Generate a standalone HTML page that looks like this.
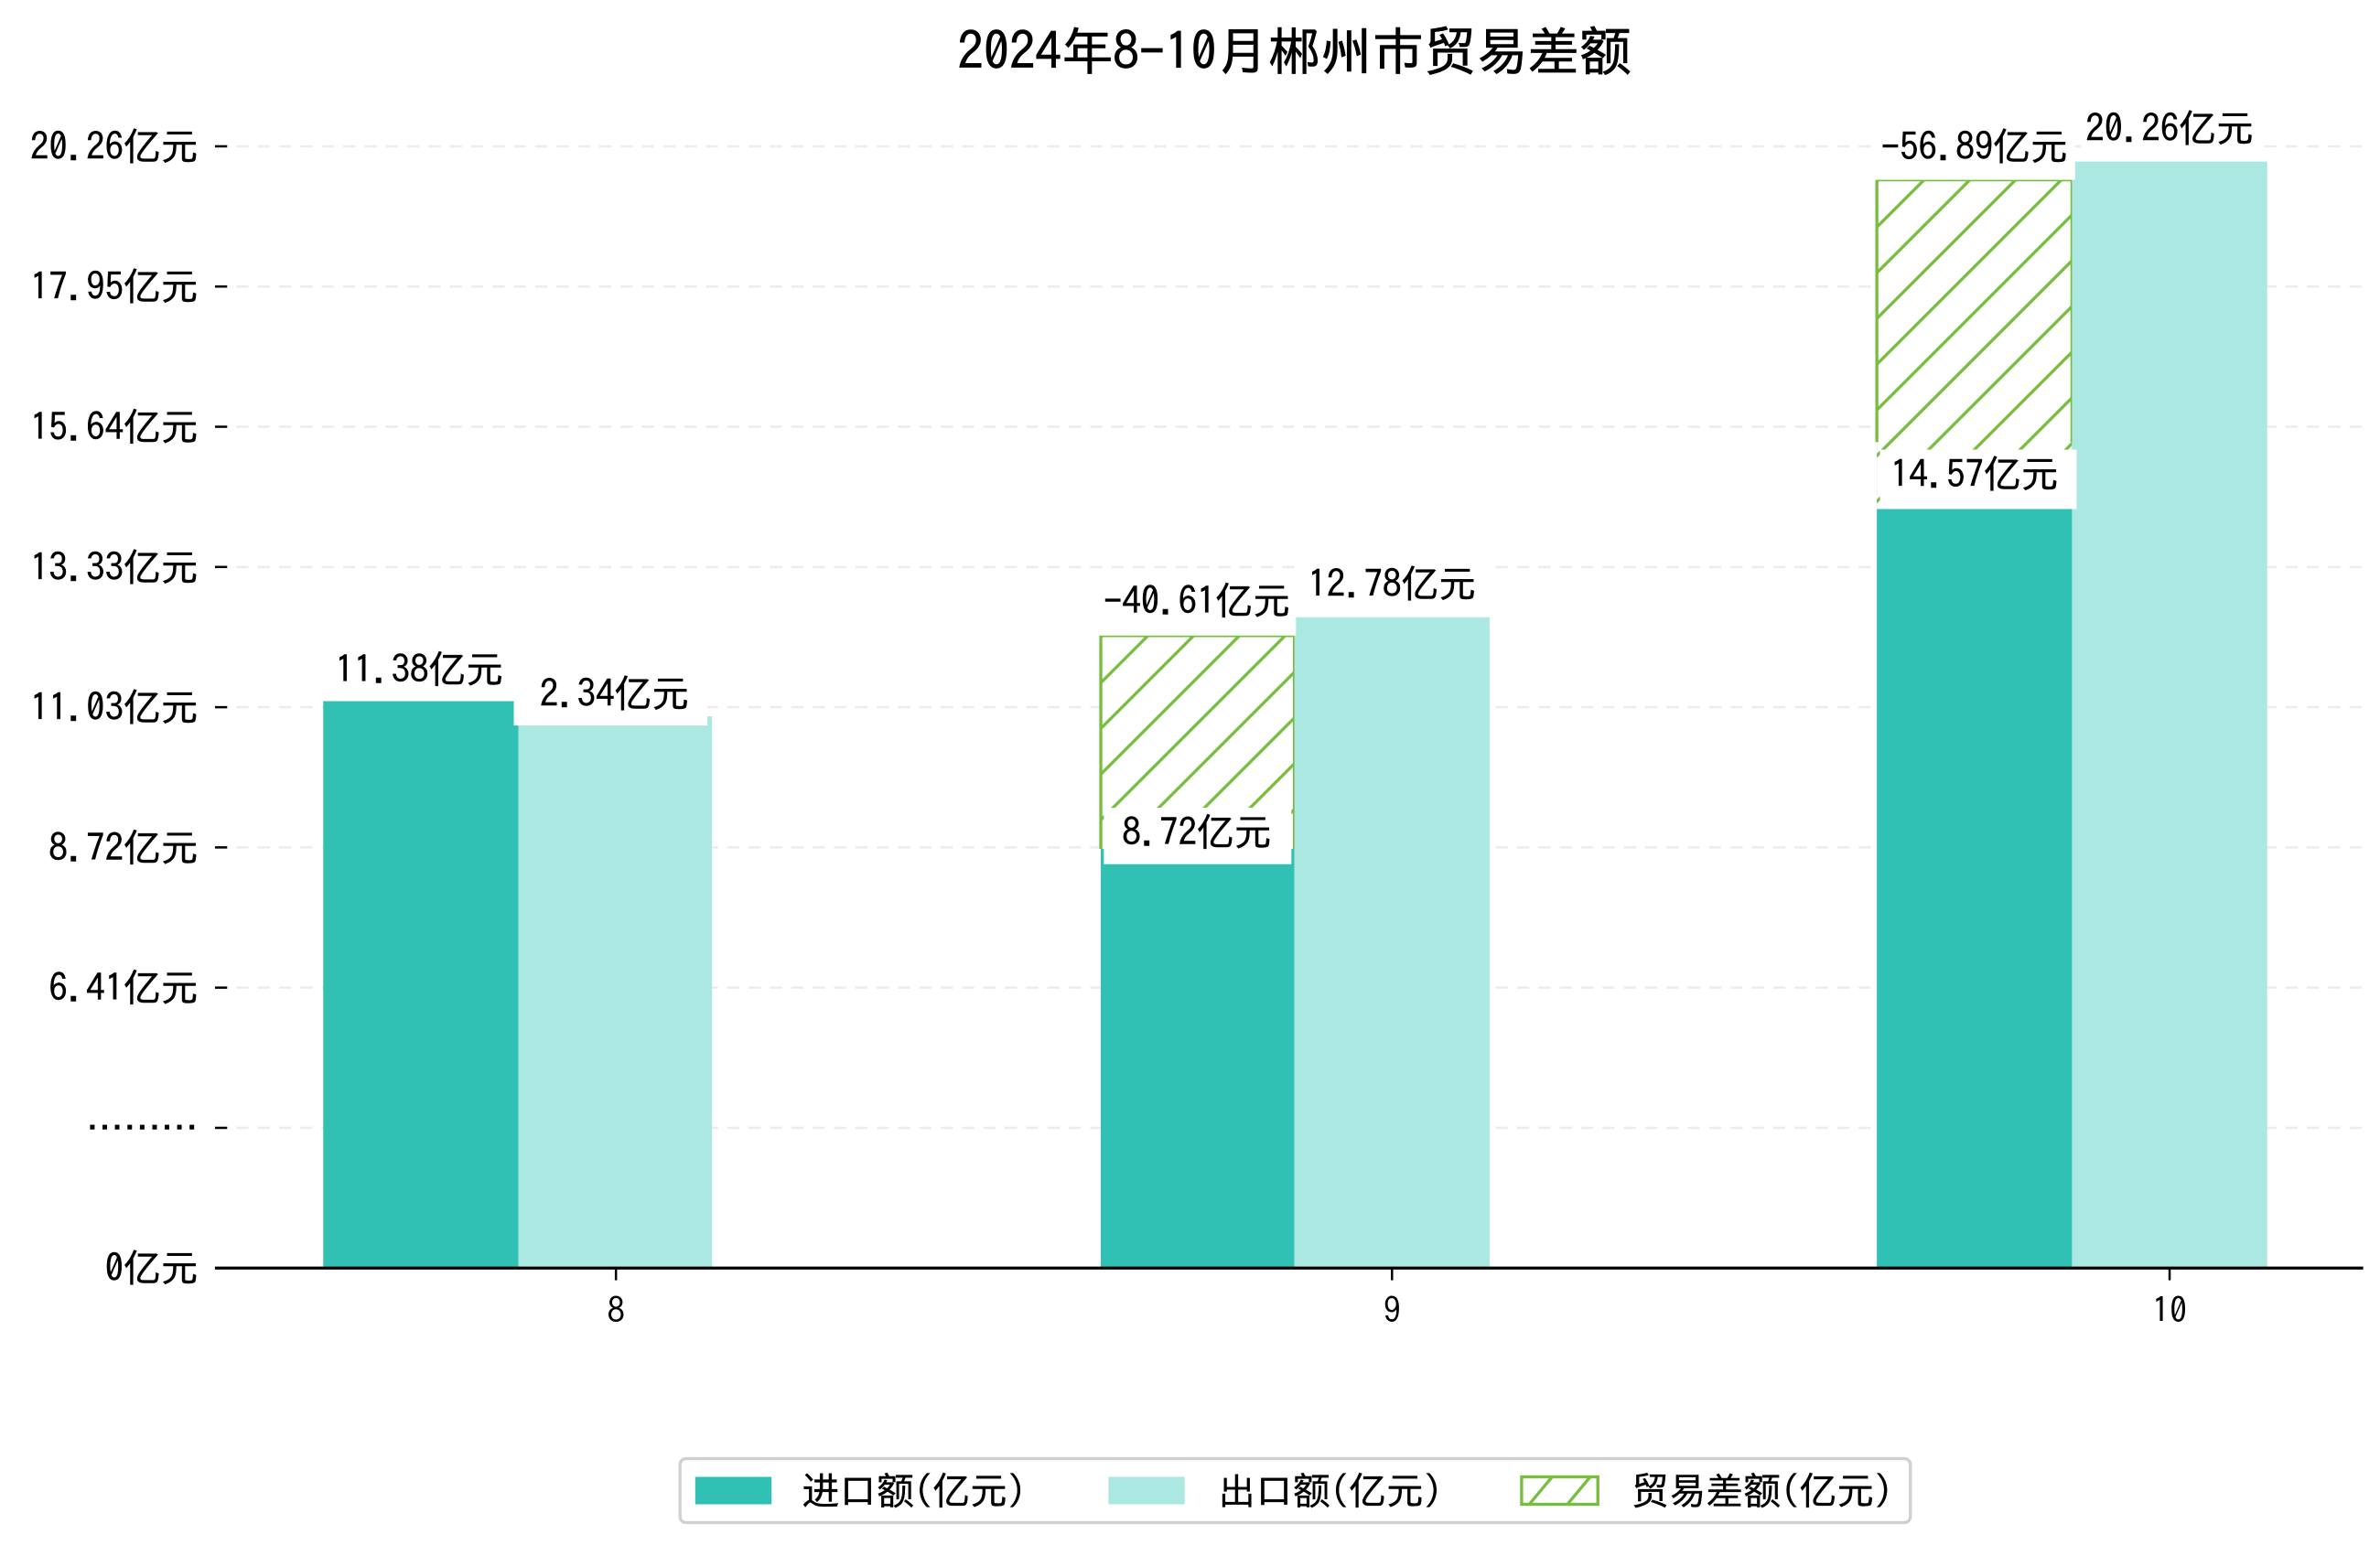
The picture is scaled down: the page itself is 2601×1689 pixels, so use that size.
<!DOCTYPE html>
<html><head><meta charset="utf-8"><style>html,body{margin:0;padding:0;background:#fff;}svg{display:block}</style></head>
<body>
<svg width="2601" height="1689" viewBox="0 0 1561 1013.7" preserveAspectRatio="none" xmlns="http://www.w3.org/2000/svg" font-family="'IPAGothic','WenQuanYi Zen Hei',sans-serif">
<defs>
<pattern id="h" patternUnits="userSpaceOnUse" width="30" height="30">
<path d="M-5,35 L35,-5 M-20,20 L20,-20 M10,50 L50,10" stroke="#77bd3f" stroke-width="2"/>
</pattern>
</defs>
<rect width="1561" height="1014" fill="#fff"/>
<text x="849" y="46" font-size="34" text-anchor="middle" fill="#000" stroke="#000" stroke-width="0.4">2024年8-10月郴州市贸易差额</text>
<g stroke="#ececec" stroke-width="1.5" stroke-dasharray="8,6">
<line x1="141" x2="1550" y1="96" y2="96"/><line x1="141" x2="1550" y1="188" y2="188"/>
<line x1="141" x2="1550" y1="280" y2="280"/><line x1="141" x2="1550" y1="372" y2="372"/>
<line x1="141" x2="1550" y1="464" y2="464"/><line x1="141" x2="1550" y1="556" y2="556"/>
<line x1="141" x2="1550" y1="648" y2="648"/><line x1="141" x2="1550" y1="740" y2="740"/>
</g>
<g stroke="#000" stroke-width="1.5">
<line x1="141" x2="149" y1="96" y2="96"/><line x1="141" x2="149" y1="188" y2="188"/>
<line x1="141" x2="149" y1="280" y2="280"/><line x1="141" x2="149" y1="372" y2="372"/>
<line x1="141" x2="149" y1="464" y2="464"/><line x1="141" x2="149" y1="556" y2="556"/>
<line x1="141" x2="149" y1="648" y2="648"/><line x1="141" x2="149" y1="740" y2="740"/>
<line x1="141" x2="149" y1="832" y2="832"/>
</g>
<g font-size="24.5" text-anchor="end" fill="#000" stroke="#000" stroke-width="0.25">
<text x="130" y="105">20.26亿元</text><text x="130" y="197">17.95亿元</text>
<text x="130" y="289">15.64亿元</text><text x="130" y="381">13.33亿元</text>
<text x="130" y="473">11.03亿元</text><text x="130" y="565">8.72亿元</text>
<text x="130" y="657">6.41亿元</text><text x="130" y="749">………</text>
<text x="130" y="841">0亿元</text>
</g>
<rect x="212" y="460" width="128" height="372" fill="#31c1b4"/>
<rect x="340" y="470" width="127" height="362" fill="#abe8e2"/>
<rect x="722" y="417" width="127" height="415" fill="#31c1b4"/>
<rect x="722" y="417" width="127" height="140" fill="#fff"/>
<rect x="722" y="417" width="127" height="140" fill="url(#h)"/>
<path d="M722,557 V417 H849 V557" fill="none" stroke="#77bd3f" stroke-width="2"/>
<rect x="849" y="405" width="128" height="427" fill="#abe8e2"/>
<rect x="1231" y="118" width="128" height="714" fill="#31c1b4"/>
<rect x="1231" y="118" width="128" height="216" fill="#fff"/>
<rect x="1231" y="118" width="128" height="216" fill="url(#h)"/>
<path d="M1231,290 V118 H1359 V290" fill="none" stroke="#77bd3f" stroke-width="2"/>
<rect x="1359" y="106" width="128" height="726" fill="#abe8e2"/>
<g fill="#fff">
<rect x="214" y="424" width="124" height="36"/>
<rect x="337" y="440" width="127" height="36"/>
<rect x="720" y="379" width="130" height="38"/>
<rect x="853" y="368" width="122" height="36"/>
<rect x="724" y="530" width="123" height="37"/>
<rect x="1229" y="80" width="132" height="38"/>
<rect x="1365" y="69" width="120" height="36"/>
<rect x="1233" y="295" width="129" height="39"/>
</g>
<g font-size="24.5" text-anchor="middle" fill="#000" stroke="#000" stroke-width="0.25">
<text x="275" y="448">11.38亿元</text>
<text x="403" y="464">2.34亿元</text>
<text x="785" y="403">-40.61亿元</text>
<text x="913" y="392">12.78亿元</text>
<text x="785" y="555">8.72亿元</text>
<text x="1295" y="105">-56.89亿元</text>
<text x="1423" y="93">20.26亿元</text>
<text x="1295" y="320">14.57亿元</text>
</g>
<line x1="141" x2="1550" y1="832" y2="832" stroke="#000" stroke-width="2"/>
<g stroke="#000" stroke-width="1.5">
<line x1="404" x2="404" y1="832" y2="840"/><line x1="913" x2="913" y1="832" y2="840"/><line x1="1423" x2="1423" y1="832" y2="840"/>
</g>
<g font-size="23" text-anchor="middle" fill="#000">
<text x="404" y="868">8</text><text x="913" y="868">9</text><text x="1423" y="868">10</text>
</g>
<rect x="446" y="957" width="807" height="42" rx="4" fill="#fff" stroke="#d0d0d0" stroke-width="2"/>
<rect x="456" y="969" width="50" height="18" fill="#31c1b4"/>
<text x="526" y="987" font-size="24.5" fill="#000" stroke="#000" stroke-width="0.2">进口额(亿元)</text>
<rect x="727" y="969" width="50" height="18" fill="#abe8e2"/>
<text x="799" y="987" font-size="24.5" fill="#000" stroke="#000" stroke-width="0.2">出口额(亿元)</text>
<rect x="998" y="969" width="50" height="18" fill="#fff" stroke="#77bd3f" stroke-width="2"/>
<path d="M1003,987 L1018,969 M1028,987 L1043,969" stroke="#77bd3f" stroke-width="2"/>
<text x="1070" y="987" font-size="24.5" fill="#000" stroke="#000" stroke-width="0.2">贸易差额(亿元)</text>
</svg>
</body></html>
